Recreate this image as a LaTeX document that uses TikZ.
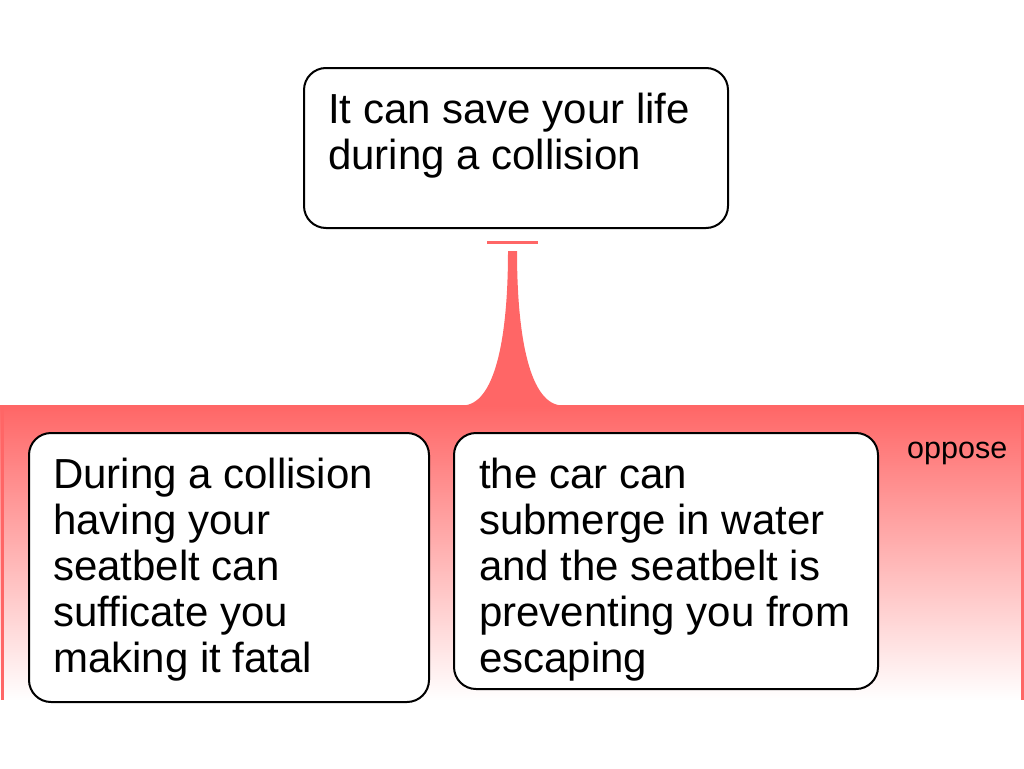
\documentclass[tikz,border=0pt]{standalone}
\usepackage{fontspec}
\setmainfont{Liberation Sans}
\usetikzlibrary{calc}
\definecolor{oppred}{RGB}{255,102,102}
\begin{document}
\begin{tikzpicture}[x=1pt,y=-1pt,
  box/.style={draw=black,line width=2pt,rounded corners=22pt,fill=white,inner sep=0pt,anchor=north west},
  txt/.style={anchor=north west,inner sep=0pt,align=left,font=\fontsize{42}{46}\selectfont},
  lbl/.style={anchor=base west,inner sep=0pt,font=\fontsize{30.5}{32}\selectfont},
  link/.style={fill=oppred},
]
\useasboundingbox (0,0) rectangle (1024,768);
% opposing region
\node[anchor=north west,inner sep=0pt,minimum width=1024pt,minimum height=295pt,
      top color=oppred,bottom color=white] (region) at (0,405) {};
\draw[oppred,line width=2.5pt] ([xshift=2.5pt]region.north west) -- ([xshift=2.5pt]region.south west);
\draw[oppred,line width=2.5pt] ([xshift=-2pt]region.north east) -- ([xshift=-2pt]region.south east);
\node[lbl] (opp) at (907,458) {oppose};
% boxes
\node[box,minimum width=424pt,minimum height=160pt] (top) at (303,67) {};
\node[txt] (toptxt) at ($(top.north west)+(25,23.8)$) {\strut It can save your life\\during a collision};
\node[box,minimum width=400pt,minimum height=269pt] (left) at (28,432) {};
\node[txt] (lefttxt) at ($(left.north west)+(25,23.8)$) {\strut During a collision\\having your\\seatbelt can\\sufficate you\\making it fatal};
\node[box,minimum width=424pt,minimum height=256pt] (right) at (453,432) {};
\node[txt] (righttxt) at ($(right.north west)+(26,23.8)$) {\strut the car can\\submerge in water\\and the seatbelt is\\preventing you from\\escaping};
% connector
\coordinate (tip) at (512.5,242);
\coordinate (foot) at (512.5,405);
\draw[oppred,line width=3pt] ([xshift=-25.5pt]tip) -- ([xshift=25.5pt]tip);
\fill[link] ($(tip)+(-4.5,9)$) .. controls ($(tip)+(-4.5,98)$) and ($(foot)+(-18,0)$) .. ($(foot)+(-50,0.5)$)
   -- ($(foot)+(50,0.5)$) .. controls ($(foot)+(18,0)$) and ($(tip)+(4.5,98)$) .. ($(tip)+(4.5,9)$) -- cycle;
\end{tikzpicture}
\end{document}
